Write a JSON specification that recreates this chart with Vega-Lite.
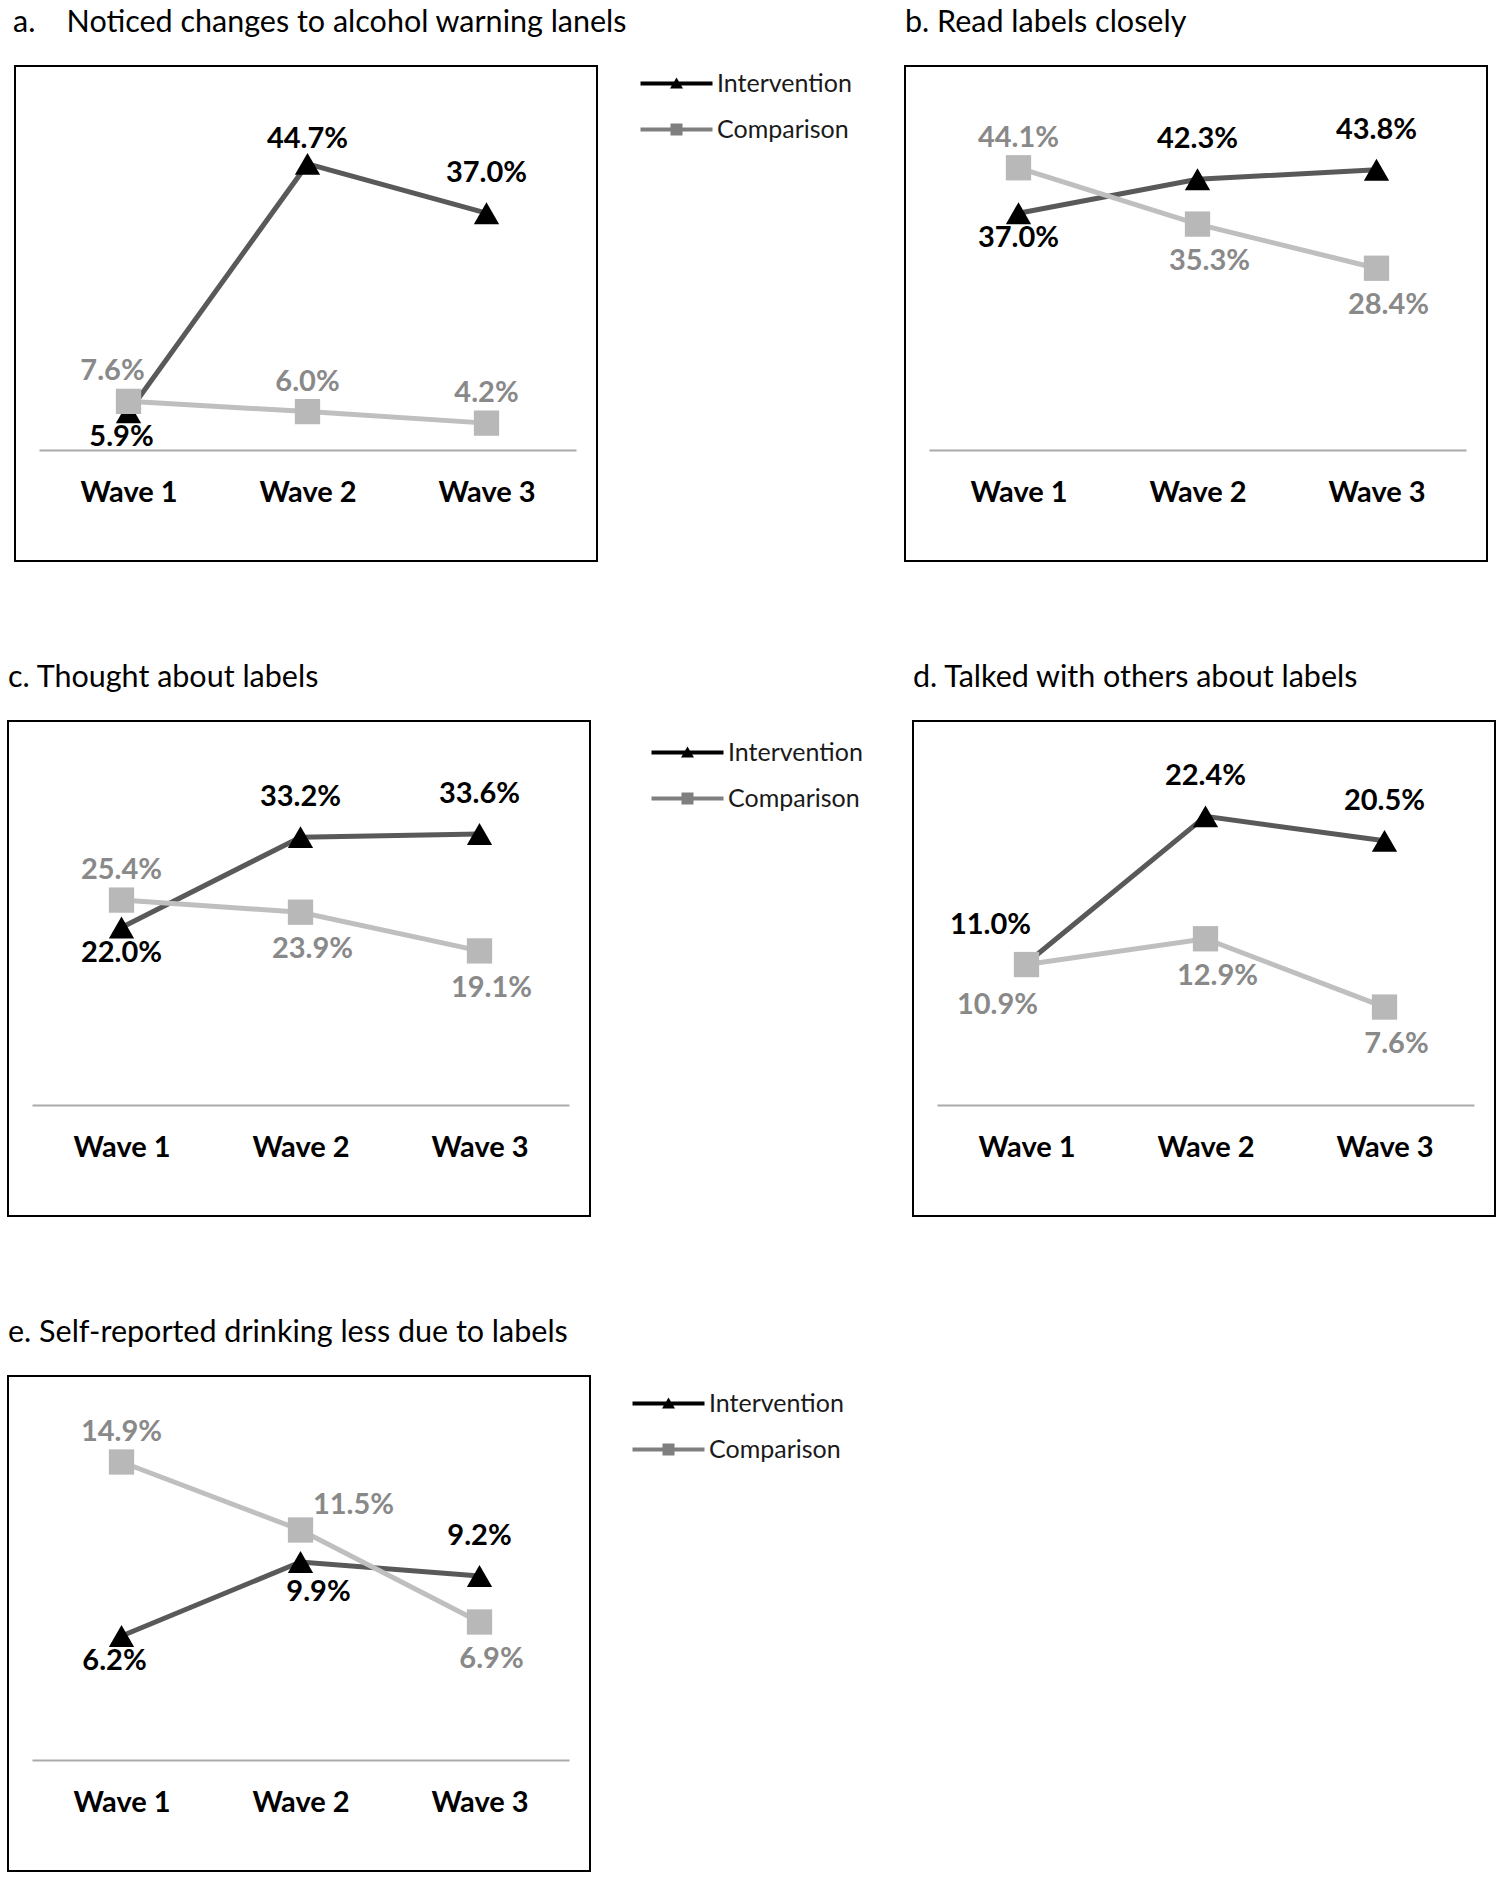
{
  "$schema": "https://vega.github.io/schema/vega-lite/v6.json",
  "background": "white",
  "padding": {"left": 7, "top": 6, "right": 5, "bottom": 5},
  "config": {
    "view": {"stroke": "#000000", "strokeWidth": 2},
    "font": "Lato",
    "title": {"font": "Lato", "fontSize": 30.5, "fontWeight": "normal", "color": "#000000", "anchor": "start", "frame": "group", "baseline": "alphabetic", "offset": 28},
    "axisX": {"title": null, "orient": "bottom", "offset": -111, "labelAngle": 0, "ticks": false, "tickSize": 0, "domainColor": "#aaaaaa", "domainWidth": 2, "labelFont": "Lato", "labelFontSize": 29, "labelFontWeight": "bold", "labelColor": "#000000", "labelBaseline": "middle", "labelPadding": 42, "grid": false},
    "legend": {"orient": "none", "title": null, "symbolSize": 400, "labelOffset": 28, "labelFont": "Lato", "labelFontSize": 25, "labelColor": "#1a1a1a", "rowPadding": 20, "padding": 0, "symbolOpacity": 1, "symbolStrokeWidth": 0}
  },
  "datasets": {
    "d": [
      {"panel": "a", "series": "Intervention", "wave": "Wave 1", "value": 0.059, "place": "bl"},
      {"panel": "a", "series": "Intervention", "wave": "Wave 2", "value": 0.447, "place": "tc"},
      {"panel": "a", "series": "Intervention", "wave": "Wave 3", "value": 0.370, "place": "t"},
      {"panel": "a", "series": "Comparison", "wave": "Wave 1", "value": 0.076, "place": "tl"},
      {"panel": "a", "series": "Comparison", "wave": "Wave 2", "value": 0.060, "place": "t"},
      {"panel": "a", "series": "Comparison", "wave": "Wave 3", "value": 0.042, "place": "t"},
      {"panel": "b", "series": "Intervention", "wave": "Wave 1", "value": 0.370, "place": "b"},
      {"panel": "b", "series": "Intervention", "wave": "Wave 2", "value": 0.423, "place": "t"},
      {"panel": "b", "series": "Intervention", "wave": "Wave 3", "value": 0.438, "place": "t"},
      {"panel": "b", "series": "Comparison", "wave": "Wave 1", "value": 0.441, "place": "t"},
      {"panel": "b", "series": "Comparison", "wave": "Wave 2", "value": 0.353, "place": "b"},
      {"panel": "b", "series": "Comparison", "wave": "Wave 3", "value": 0.284, "place": "b"},
      {"panel": "c", "series": "Intervention", "wave": "Wave 1", "value": 0.220, "place": "b"},
      {"panel": "c", "series": "Intervention", "wave": "Wave 2", "value": 0.332, "place": "t"},
      {"panel": "c", "series": "Intervention", "wave": "Wave 3", "value": 0.336, "place": "t"},
      {"panel": "c", "series": "Comparison", "wave": "Wave 1", "value": 0.254, "place": "t"},
      {"panel": "c", "series": "Comparison", "wave": "Wave 2", "value": 0.239, "place": "b"},
      {"panel": "c", "series": "Comparison", "wave": "Wave 3", "value": 0.191, "place": "b"},
      {"panel": "d", "series": "Intervention", "wave": "Wave 1", "value": 0.110, "place": "tl"},
      {"panel": "d", "series": "Intervention", "wave": "Wave 2", "value": 0.224, "place": "t"},
      {"panel": "d", "series": "Intervention", "wave": "Wave 3", "value": 0.205, "place": "t"},
      {"panel": "d", "series": "Comparison", "wave": "Wave 1", "value": 0.109, "place": "bl"},
      {"panel": "d", "series": "Comparison", "wave": "Wave 2", "value": 0.129, "place": "b"},
      {"panel": "d", "series": "Comparison", "wave": "Wave 3", "value": 0.076, "place": "b"},
      {"panel": "e", "series": "Intervention", "wave": "Wave 1", "value": 0.062, "place": "bl"},
      {"panel": "e", "series": "Intervention", "wave": "Wave 2", "value": 0.099, "place": "br"},
      {"panel": "e", "series": "Intervention", "wave": "Wave 3", "value": 0.092, "place": "t"},
      {"panel": "e", "series": "Comparison", "wave": "Wave 1", "value": 0.149, "place": "t"},
      {"panel": "e", "series": "Comparison", "wave": "Wave 2", "value": 0.115, "place": "r"},
      {"panel": "e", "series": "Comparison", "wave": "Wave 3", "value": 0.069, "place": "b"}
    ]
  },
  "columns": 1,
  "spacing": 99,
  "resolve": {"scale": {"x": "independent", "y": "independent", "shape": "independent", "color": "independent"}, "legend": {"shape": "independent", "color": "independent"}},
  "concat": [
    {
      "hconcat": [
        {
          "hconcat": [
            {"width": 7, "height": 495, "view": {"stroke": null}, "data": {"values": []}, "mark": {"type": "point", "opacity": 0}},
            {
              "width": 582, "height": 495,
              "title": {"text": "a.\u00a0\u00a0\u00a0\u00a0Noticed changes to alcohol warning lanels", "dx": -2},
              "data": {"name": "d"},
              "transform": [{"filter": "datum.panel === 'a'"}],
              "encoding": {
                "x": {"field": "wave", "type": "nominal", "scale": {"type": "point", "domain": ["Wave 1", "Wave 2", "Wave 3"], "range": [24, 561], "padding": 0.5}},
                "y": {"field": "value", "type": "quantitative", "scale": {"domain": [0, 0.6], "range": [384, 0], "nice": false}, "axis": null}
              },
              "layer": [
                {"mark": {"type": "line", "strokeWidth": 5, "stroke": {"expr": "datum.series === 'Intervention' ? '#595959' : '#bfbfbf'"}}, "encoding": {"detail": {"field": "series", "type": "nominal"}}},
                {"mark": {"type": "point", "filled": true, "size": 640, "opacity": 1, "strokeWidth": 0, "fill": {"expr": "datum.series === 'Intervention' ? '#000000' : '#b8b8b8'"}, "shape": {"expr": "datum.series === 'Intervention' ? 'triangle-up' : 'square'"}}},
                {"mark": {"type": "text", "font": "Lato", "fontSize": 29, "fontWeight": "bold", "baseline": "middle", "align": "center",
                  "color": {"expr": "datum.series === 'Intervention' ? '#000000' : '#898989'"},
                  "dx": {"expr": "datum.series === 'Intervention' ? (datum.place === 'tl' ? -36 : datum.place === 'bl' ? -7 : datum.place === 'br' ? 18 : 0) : (datum.place === 'b' ? 12 : datum.place === 'tl' ? -16 : datum.place === 'bl' ? -29 : datum.place === 'r' ? 53 : 0)"},
                  "dy": {"expr": "datum.series === 'Intervention' ? (datum.place === 't' ? -40 : datum.place === 'tc' ? -25 : datum.place === 'tl' ? -38 : datum.place === 'br' ? 30 : 25) : (datum.place === 't' || datum.place === 'tl' ? -30 : datum.place === 'bl' ? 40 : datum.place === 'r' ? -25 : 37)"}},
                 "encoding": {"text": {"field": "value", "type": "quantitative", "format": ".1%"}}},
                {"transform": [{"filter": "false"}], "mark": {"type": "point", "filled": true, "size": 400, "opacity": 1},
                 "encoding": {
                   "shape": {"field": "series", "type": "nominal", "scale": {"domain": ["Intervention", "Comparison"], "range": ["M-3.6,-0.2H3.6V0.2H-3.6Z M0,-0.6L0.65,0.5L-0.65,0.5Z", "M-3.6,-0.2H3.6V0.2H-3.6Z M-0.6,-0.6H0.6V0.6H-0.6Z"]}, "legend": {"orient": "none", "legendX": 649, "legendY": 5}},
                   "color": {"field": "series", "type": "nominal", "scale": {"domain": ["Intervention", "Comparison"], "range": ["#000000", "#7f7f7f"]}, "legend": {"orient": "none", "legendX": 649, "legendY": 5}}
                 }}
              ]
            }
          ],
          "spacing": 0,
          "bounds": "flush",
          "resolve": {"scale": {"x": "independent", "y": "independent", "shape": "independent", "color": "independent"}, "legend": {"shape": "independent", "color": "independent"}}
        },
        {
          "width": 582, "height": 495,
          "title": {"text": "b. Read labels closely"},
          "data": {"name": "d"},
          "transform": [{"filter": "datum.panel === 'b'"}],
          "encoding": {
            "x": {"field": "wave", "type": "nominal", "scale": {"type": "point", "domain": ["Wave 1", "Wave 2", "Wave 3"], "range": [24, 561], "padding": 0.5}},
            "y": {"field": "value", "type": "quantitative", "scale": {"domain": [0, 0.6], "range": [384, 0], "nice": false}, "axis": null}
          },
          "layer": [
            {"mark": {"type": "line", "strokeWidth": 5, "stroke": {"expr": "datum.series === 'Intervention' ? '#595959' : '#bfbfbf'"}}, "encoding": {"detail": {"field": "series", "type": "nominal"}}},
            {"mark": {"type": "point", "filled": true, "size": 640, "opacity": 1, "strokeWidth": 0, "fill": {"expr": "datum.series === 'Intervention' ? '#000000' : '#b8b8b8'"}, "shape": {"expr": "datum.series === 'Intervention' ? 'triangle-up' : 'square'"}}},
            {"mark": {"type": "text", "font": "Lato", "fontSize": 29, "fontWeight": "bold", "baseline": "middle", "align": "center",
              "color": {"expr": "datum.series === 'Intervention' ? '#000000' : '#898989'"},
              "dx": {"expr": "datum.series === 'Intervention' ? (datum.place === 'tl' ? -36 : datum.place === 'bl' ? -7 : datum.place === 'br' ? 18 : 0) : (datum.place === 'b' ? 12 : datum.place === 'tl' ? -16 : datum.place === 'bl' ? -29 : datum.place === 'r' ? 53 : 0)"},
              "dy": {"expr": "datum.series === 'Intervention' ? (datum.place === 't' ? -40 : datum.place === 'tc' ? -25 : datum.place === 'tl' ? -38 : datum.place === 'br' ? 30 : 25) : (datum.place === 't' || datum.place === 'tl' ? -30 : datum.place === 'bl' ? 40 : datum.place === 'r' ? -25 : 37)"}},
             "encoding": {"text": {"field": "value", "type": "quantitative", "format": ".1%"}}}
          ]
        }
      ],
      "spacing": 51,
      "resolve": {"scale": {"x": "independent", "y": "independent", "shape": "independent", "color": "independent"}, "legend": {"shape": "independent", "color": "independent"}}
    },
    {
      "hconcat": [
        {
          "width": 582, "height": 495,
          "title": {"text": "c. Thought about labels"},
          "data": {"name": "d"},
          "transform": [{"filter": "datum.panel === 'c'"}],
          "encoding": {
            "x": {"field": "wave", "type": "nominal", "scale": {"type": "point", "domain": ["Wave 1", "Wave 2", "Wave 3"], "range": [24, 561], "padding": 0.5}},
            "y": {"field": "value", "type": "quantitative", "scale": {"domain": [0, 0.476], "range": [384, 0], "nice": false}, "axis": null}
          },
          "layer": [
            {"mark": {"type": "line", "strokeWidth": 5, "stroke": {"expr": "datum.series === 'Intervention' ? '#595959' : '#bfbfbf'"}}, "encoding": {"detail": {"field": "series", "type": "nominal"}}},
            {"mark": {"type": "point", "filled": true, "size": 640, "opacity": 1, "strokeWidth": 0, "fill": {"expr": "datum.series === 'Intervention' ? '#000000' : '#b8b8b8'"}, "shape": {"expr": "datum.series === 'Intervention' ? 'triangle-up' : 'square'"}}},
            {"mark": {"type": "text", "font": "Lato", "fontSize": 29, "fontWeight": "bold", "baseline": "middle", "align": "center",
              "color": {"expr": "datum.series === 'Intervention' ? '#000000' : '#898989'"},
              "dx": {"expr": "datum.series === 'Intervention' ? (datum.place === 'tl' ? -36 : datum.place === 'bl' ? -7 : datum.place === 'br' ? 18 : 0) : (datum.place === 'b' ? 12 : datum.place === 'tl' ? -16 : datum.place === 'bl' ? -29 : datum.place === 'r' ? 53 : 0)"},
              "dy": {"expr": "datum.series === 'Intervention' ? (datum.place === 't' ? -40 : datum.place === 'tc' ? -25 : datum.place === 'tl' ? -38 : datum.place === 'br' ? 30 : 25) : (datum.place === 't' || datum.place === 'tl' ? -30 : datum.place === 'bl' ? 40 : datum.place === 'r' ? -25 : 37)"}},
             "encoding": {"text": {"field": "value", "type": "quantitative", "format": ".1%"}}},
            {"transform": [{"filter": "false"}], "mark": {"type": "point", "filled": true, "size": 400, "opacity": 1},
             "encoding": {
               "shape": {"field": "series", "type": "nominal", "scale": {"domain": ["Intervention", "Comparison"], "range": ["M-3.6,-0.2H3.6V0.2H-3.6Z M0,-0.6L0.65,0.5L-0.65,0.5Z", "M-3.6,-0.2H3.6V0.2H-3.6Z M-0.6,-0.6H0.6V0.6H-0.6Z"]}, "legend": {"orient": "none", "legendX": 667, "legendY": 19}},
               "color": {"field": "series", "type": "nominal", "scale": {"domain": ["Intervention", "Comparison"], "range": ["#000000", "#7f7f7f"]}, "legend": {"orient": "none", "legendX": 667, "legendY": 19}}
             }}
          ]
        },
        {
          "width": 582, "height": 495,
          "title": {"text": "d. Talked with others about labels"},
          "data": {"name": "d"},
          "transform": [{"filter": "datum.panel === 'd'"}],
          "encoding": {
            "x": {"field": "wave", "type": "nominal", "scale": {"type": "point", "domain": ["Wave 1", "Wave 2", "Wave 3"], "range": [24, 561], "padding": 0.5}},
            "y": {"field": "value", "type": "quantitative", "scale": {"domain": [0, 0.298], "range": [384, 0], "nice": false}, "axis": null}
          },
          "layer": [
            {"mark": {"type": "line", "strokeWidth": 5, "stroke": {"expr": "datum.series === 'Intervention' ? '#595959' : '#bfbfbf'"}}, "encoding": {"detail": {"field": "series", "type": "nominal"}}},
            {"mark": {"type": "point", "filled": true, "size": 640, "opacity": 1, "strokeWidth": 0, "fill": {"expr": "datum.series === 'Intervention' ? '#000000' : '#b8b8b8'"}, "shape": {"expr": "datum.series === 'Intervention' ? 'triangle-up' : 'square'"}}},
            {"mark": {"type": "text", "font": "Lato", "fontSize": 29, "fontWeight": "bold", "baseline": "middle", "align": "center",
              "color": {"expr": "datum.series === 'Intervention' ? '#000000' : '#898989'"},
              "dx": {"expr": "datum.series === 'Intervention' ? (datum.place === 'tl' ? -36 : datum.place === 'bl' ? -7 : datum.place === 'br' ? 18 : 0) : (datum.place === 'b' ? 12 : datum.place === 'tl' ? -16 : datum.place === 'bl' ? -29 : datum.place === 'r' ? 53 : 0)"},
              "dy": {"expr": "datum.series === 'Intervention' ? (datum.place === 't' ? -40 : datum.place === 'tc' ? -25 : datum.place === 'tl' ? -38 : datum.place === 'br' ? 30 : 25) : (datum.place === 't' || datum.place === 'tl' ? -30 : datum.place === 'bl' ? 40 : datum.place === 'r' ? -25 : 37)"}},
             "encoding": {"text": {"field": "value", "type": "quantitative", "format": ".1%"}}}
          ]
        }
      ],
      "spacing": 323,
      "bounds": "flush",
      "resolve": {"scale": {"x": "independent", "y": "independent", "shape": "independent", "color": "independent"}, "legend": {"shape": "independent", "color": "independent"}}
    },
    {
      "width": 582, "height": 495,
      "title": {"text": "e. Self-reported drinking less due to labels"},
      "data": {"name": "d"},
      "transform": [{"filter": "datum.panel === 'e'"}],
      "encoding": {
        "x": {"field": "wave", "type": "nominal", "scale": {"type": "point", "domain": ["Wave 1", "Wave 2", "Wave 3"], "range": [24, 561], "padding": 0.5}},
        "y": {"field": "value", "type": "quantitative", "scale": {"domain": [0, 0.192], "range": [384, 0], "nice": false}, "axis": null}
      },
      "layer": [
        {"mark": {"type": "line", "strokeWidth": 5, "stroke": {"expr": "datum.series === 'Intervention' ? '#595959' : '#bfbfbf'"}}, "encoding": {"detail": {"field": "series", "type": "nominal"}}},
        {"mark": {"type": "point", "filled": true, "size": 640, "opacity": 1, "strokeWidth": 0, "fill": {"expr": "datum.series === 'Intervention' ? '#000000' : '#b8b8b8'"}, "shape": {"expr": "datum.series === 'Intervention' ? 'triangle-up' : 'square'"}}},
        {"mark": {"type": "text", "font": "Lato", "fontSize": 29, "fontWeight": "bold", "baseline": "middle", "align": "center",
          "color": {"expr": "datum.series === 'Intervention' ? '#000000' : '#898989'"},
          "dx": {"expr": "datum.series === 'Intervention' ? (datum.place === 'tl' ? -36 : datum.place === 'bl' ? -7 : datum.place === 'br' ? 18 : 0) : (datum.place === 'b' ? 12 : datum.place === 'tl' ? -16 : datum.place === 'bl' ? -29 : datum.place === 'r' ? 53 : 0)"},
          "dy": {"expr": "datum.series === 'Intervention' ? (datum.place === 't' ? -40 : datum.place === 'tc' ? -25 : datum.place === 'tl' ? -38 : datum.place === 'br' ? 30 : 25) : (datum.place === 't' || datum.place === 'tl' ? -30 : datum.place === 'bl' ? 40 : datum.place === 'r' ? -25 : 37)"}},
         "encoding": {"text": {"field": "value", "type": "quantitative", "format": ".1%"}}},
        {"transform": [{"filter": "false"}], "mark": {"type": "point", "filled": true, "size": 400, "opacity": 1},
         "encoding": {
           "shape": {"field": "series", "type": "nominal", "scale": {"domain": ["Intervention", "Comparison"], "range": ["M-3.6,-0.2H3.6V0.2H-3.6Z M0,-0.6L0.65,0.5L-0.65,0.5Z", "M-3.6,-0.2H3.6V0.2H-3.6Z M-0.6,-0.6H0.6V0.6H-0.6Z"]}, "legend": {"orient": "none", "legendX": 648, "legendY": 15}},
           "color": {"field": "series", "type": "nominal", "scale": {"domain": ["Intervention", "Comparison"], "range": ["#000000", "#7f7f7f"]}, "legend": {"orient": "none", "legendX": 648, "legendY": 15}}
         }}
      ]
    }
  ]
}
